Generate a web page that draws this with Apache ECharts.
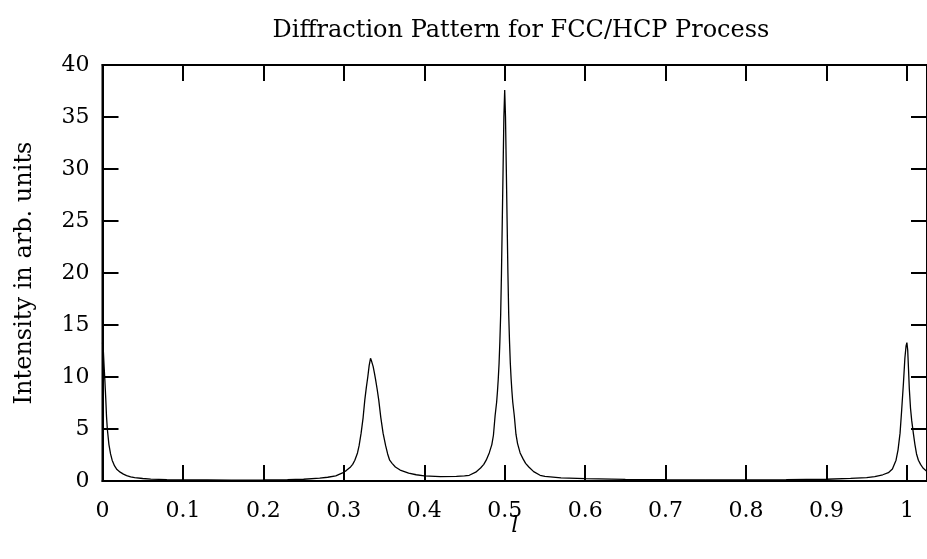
<!DOCTYPE html>
<html>
<head>
<meta charset="utf-8">
<script src="https://cdn.jsdelivr.net/npm/echarts@6/dist/echarts.min.js"></script>
<style>html,body{margin:0;padding:0;background:#fff;}#c{width:927px;height:559px;}</style>
</head>
<body>
<div id="c"></div>
<script>
const titleText = "Diffraction Pattern for FCC/HCP Process";
const xName = "l";
const yName = "Intensity in arb. units";
const xTicks = [0, 0.1, 0.2, 0.3, 0.4, 0.5, 0.6, 0.7, 0.8, 0.9, 1];
const yTicks = [0, 5, 10, 15, 20, 25, 30, 35, 40];

const lValues = [
  0.000, 0.001, 0.002, 0.003, 0.004, 0.005, 0.006, 0.008, 0.010, 0.012,
  0.015, 0.018, 0.022, 0.026, 0.030, 0.035, 0.040, 0.050, 0.060, 0.080,
  0.100, 0.130, 0.160, 0.200, 0.230, 0.250, 0.270, 0.280, 0.290, 0.2977,
  0.3030, 0.3084, 0.3110, 0.3137, 0.3170, 0.3190, 0.3215, 0.3240, 0.3261, 0.3280,
  0.3298, 0.3315, 0.3332, 0.3342, 0.3351, 0.3365, 0.3380, 0.3394, 0.3415, 0.3434,
  0.3460, 0.3488, 0.3520, 0.3545, 0.3570, 0.3600, 0.3641, 0.3700, 0.3806, 0.3900,
  0.4000, 0.4200, 0.4400, 0.4500, 0.4560, 0.4640, 0.4700, 0.4740, 0.4770, 0.4808,
  0.4840, 0.4860, 0.4881, 0.4900, 0.4910, 0.4920, 0.4930, 0.4940, 0.4950, 0.4960,
  0.4970, 0.4980, 0.4990, 0.5000, 0.5010, 0.5020, 0.5030, 0.5040, 0.5050, 0.5060,
  0.5070, 0.5080, 0.5090, 0.5100, 0.5119, 0.5140, 0.5160, 0.5192, 0.5230, 0.5260,
  0.5300, 0.5360, 0.5440, 0.5500, 0.5700, 0.6000, 0.6500, 0.7000, 0.7500, 0.8000,
  0.8500, 0.9000, 0.9300, 0.9500, 0.9600, 0.9700, 0.9770, 0.9820, 0.9865, 0.9890,
  0.9915, 0.9935, 0.9957, 0.9975, 0.9990, 1.0000, 1.0010, 1.0020, 1.0030, 1.0045,
  1.0060, 1.0080, 1.0100, 1.0120, 1.0143, 1.0170, 1.0200, 1.0250
];
const intensity = [
  13.3, 12.6, 11.0, 9.6, 8.0, 6.2, 5.0, 3.5, 2.6, 2.0,
  1.45, 1.1, 0.85, 0.66, 0.52, 0.40, 0.32, 0.24, 0.18, 0.13,
  0.11, 0.10, 0.09, 0.10, 0.13, 0.17, 0.27, 0.36, 0.50, 0.75,
  1.0, 1.35, 1.6, 2.0, 2.7, 3.4, 4.6, 6.1, 7.8, 9.0,
  10.0, 11.1, 11.8, 11.6, 11.5, 11.0, 10.4, 9.8, 8.8, 7.8,
  6.1, 4.6, 3.4, 2.6, 2.0, 1.7, 1.35, 1.05, 0.75, 0.6,
  0.5, 0.42, 0.44, 0.5, 0.55, 0.85, 1.25, 1.6, 2.0, 2.7,
  3.5, 4.4, 6.3, 7.6, 8.6, 9.8, 11.3, 13.4, 16.0, 20.0,
  25.0, 30.0, 35.0, 37.6, 35.0, 30.0, 25.0, 20.0, 16.0, 13.4,
  11.3, 9.8, 8.6, 7.6, 6.3, 4.5, 3.6, 2.7, 2.1, 1.7,
  1.35, 0.9, 0.55, 0.45, 0.30, 0.22, 0.15, 0.12, 0.10, 0.10,
  0.12, 0.17, 0.25, 0.33, 0.42, 0.6, 0.8, 1.15, 2.0, 3.0,
  4.6, 6.8, 9.4, 11.8, 13.0, 13.3, 12.6, 10.8, 8.9, 7.0,
  5.8, 4.6, 3.5, 2.6, 2.0, 1.6, 1.25, 0.9
];

const seriesData = lValues.map((l, i) => [l, intensity[i]]);
const FONT = "DejaVu Serif";
const fontSize = 22;

const chart = echarts.init(document.getElementById('c'), null, {renderer: 'canvas'});
const tickStyle = {show: true, inside: true, length: 16, lineStyle: {color: '#000', width: 2}};
const lineStyle = {show: true, onZero: false, lineStyle: {color: '#000', width: 2}};
chart.setOption({
  animation: false,
  backgroundColor: '#fff',
  title: {
    text: titleText, left: 516, top: 14, textAlign: 'center',
    textStyle: {fontFamily: FONT, fontWeight: 'normal', fontSize: 24, color: '#000'}
  },
  grid: {left: 102.5, top: 65, width: 828, height: 416, show: true, borderColor: '#000', borderWidth: 2, backgroundColor: 'transparent'},
  xAxis: [{
    type: 'value', min: 0, max: 1.025, interval: 0.1, position: 'bottom',
    name: xName, nameLocation: 'middle', nameGap: 34, nameMoveOverlap: false,
    nameTextStyle: {fontFamily: FONT, fontStyle: 'italic', fontSize: 22, color: '#000'},
    axisLine: lineStyle,
    axisTick: tickStyle,
    splitLine: {show: false},
    axisLabel: {fontFamily: FONT, fontSize: fontSize, color: '#000', margin: 19, showMaxLabel: false,
      formatter: v => { const t = xTicks.find(k => Math.abs(k - v) < 1e-9); return t === undefined ? '' : String(t); }}
  }, {
    type: 'value', min: 0, max: 1.025, interval: 0.1, position: 'top',
    axisLine: lineStyle,
    axisTick: tickStyle, axisLabel: {show: false}, splitLine: {show: false}
  }],
  yAxis: [{
    type: 'value', min: 0, max: 40, interval: 5, position: 'left',
    name: yName, nameLocation: 'middle', nameGap: 66, nameRotate: 90, nameMoveOverlap: false,
    nameTextStyle: {fontFamily: FONT, fontSize: 24, color: '#000'},
    axisLine: lineStyle,
    axisTick: tickStyle,
    splitLine: {show: false},
    axisLabel: {fontFamily: FONT, fontSize: fontSize, color: '#000', margin: 13,
      formatter: v => { const t = yTicks.find(k => Math.abs(k - v) < 1e-9); return t === undefined ? '' : String(t); }}
  }, {
    type: 'value', min: 0, max: 40, interval: 5, position: 'right',
    axisLine: lineStyle,
    axisTick: tickStyle, axisLabel: {show: false}, splitLine: {show: false}
  }],
  series: [{
    type: 'line', data: seriesData, xAxisIndex: 0, yAxisIndex: 0,
    showSymbol: false, symbol: 'none', smooth: false,
    lineStyle: {color: '#000', width: 1.3}, clip: true
  }]
});
</script>
</body>
</html>
